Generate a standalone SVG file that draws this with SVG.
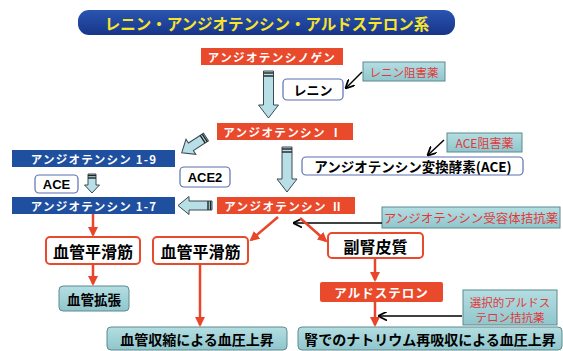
<svg xmlns="http://www.w3.org/2000/svg" width="563" height="351" viewBox="0 0 563 351">
<defs>
<linearGradient id="tg" x1="0" y1="0" x2="0" y2="1">
<stop offset="0" stop-color="#2a55b0"/>
<stop offset="1" stop-color="#17358a"/>
</linearGradient>
<linearGradient id="teal" x1="0" y1="0" x2="0" y2="1">
<stop offset="0" stop-color="#b4dee2"/>
<stop offset="1" stop-color="#8fc6cc"/>
</linearGradient>
<marker id="ra" viewBox="0 0 10 10" refX="8" refY="5" markerWidth="4" markerHeight="4" orient="auto" markerUnits="strokeWidth">
<path d="M0,0 L10,5 L0,10 z" fill="#e8452b"/>
</marker>
<marker id="ka" viewBox="0 0 10 10" refX="9" refY="5" markerWidth="6" markerHeight="6" orient="auto" markerUnits="strokeWidth">
<path d="M0,0 L10,5 L0,10" fill="none" stroke="#000" stroke-width="2"/>
</marker>
</defs>
<style>
text{font-family:"Noto Sans CJK JP","Liberation Sans",sans-serif;font-weight:bold;text-anchor:middle;dominant-baseline:central}
.red{fill:#ea4a2c}
.blue{fill:#1f4f9f}
.w{fill:#fff}
.wt{fill:#fff;font-size:11.5px;letter-spacing:1.4px}
.wbox{fill:#fff;stroke:#5b6fb0;stroke-width:1.2}
.rbox{fill:#fff;stroke:#ea4a2c;stroke-width:2}
.tbox{fill:url(#teal);stroke:#5d8a90;stroke-width:1}
.drug{fill:#e2383a;font-weight:normal;font-size:11.5px}
.ha{fill:#b7dfe5;stroke:#3a4a55;stroke-width:1}
.st{stroke:#222;stroke-width:1.4}
.rl{stroke:#e8452b;stroke-width:2.5;fill:none;marker-end:url(#ra)}
.kl{stroke:#000;stroke-width:1.5;fill:none;marker-end:url(#ka)}
</style>
<rect width="563" height="351" fill="#fff"/>

<g id="title">
<rect x="78" y="10" width="377" height="25" rx="11" fill="url(#tg)"/>
<text x="267" y="23" fill="#f7e52b" style="font-size:15.5px">レニン・アンジオテンシン・アルドステロン系</text>
</g>

<g id="angiotensinogen">
<rect x="201" y="48" width="142" height="17" class="red"/>
<text x="272" y="56.5" class="wt">アンジオテンシノゲン</text>
</g>

<g id="renin">
<rect x="283" y="79" width="60" height="21" rx="4" class="wbox"/>
<text x="313" y="89.5" style="font-size:13px">レニン</text>
</g>

<g id="renin-inhibitor">
<rect x="363" y="62" width="82" height="19" class="tbox"/>
<text x="404" y="71.5" class="drug">レニン阻害薬</text>
</g>

<g id="angiotensin1">
<rect x="217" y="123" width="136" height="17" class="red"/>
<text x="283" y="131.5" class="wt">アンジオテンシン Ⅰ</text>
</g>

<g id="ace-inhibitor">
<rect x="447" y="133" width="75" height="19" class="tbox"/>
<text x="484.5" y="142.5" class="drug" style="font-size:12px">ACE阻害薬</text>
</g>

<g id="ace-enzyme">
<rect x="302" y="157" width="221" height="18" rx="4" class="wbox"/>
<text x="413" y="166" style="font-size:13.5px">アンジオテンシン変換酵素(ACE)</text>
</g>

<g id="angiotensin2">
<rect x="217" y="197" width="138" height="17" class="red"/>
<text x="284" y="205.5" class="wt">アンジオテンシン Ⅱ</text>
</g>

<g id="arb">
<rect x="382" y="207" width="178" height="21" class="tbox"/>
<text x="471" y="217.5" class="drug" style="font-size:12.5px">アンジオテンシン受容体拮抗薬</text>
</g>

<g id="angiotensin1-9">
<rect x="12" y="150" width="163" height="17" class="blue"/>
<text x="94" y="158.5" class="wt" style="letter-spacing:1.2px">アンジオテンシン 1-9</text>
</g>

<g id="ace-small">
<rect x="35" y="175" width="43" height="18" rx="4" class="wbox"/>
<text x="56.5" y="184" style="font-size:13px;font-family:'Liberation Sans',sans-serif">ACE</text>
</g>

<g id="ace2">
<rect x="180" y="167" width="50" height="20" rx="4" class="wbox"/>
<text x="205" y="177" style="font-size:13px;font-family:'Liberation Sans',sans-serif">ACE2</text>
</g>

<g id="angiotensin1-7">
<rect x="12" y="197" width="163" height="17" class="blue"/>
<text x="94" y="205.5" class="wt" style="letter-spacing:1.2px">アンジオテンシン 1-7</text>
</g>

<g id="smooth-muscle-left">
<rect x="46" y="237" width="94" height="27" rx="4" class="rbox"/>
<text x="93" y="250.5" style="font-size:16px">血管平滑筋</text>
</g>

<g id="vasodilation">
<rect x="59" y="286" width="70" height="25" rx="4" class="tbox"/>
<text x="94" y="298.5" style="font-size:13.5px">血管拡張</text>
</g>

<g id="smooth-muscle-mid">
<rect x="153" y="237" width="95" height="27" rx="4" class="rbox"/>
<text x="200.5" y="250.5" style="font-size:16px">血管平滑筋</text>
</g>

<g id="adrenal-cortex">
<rect x="328" y="233" width="95" height="25" rx="4" class="rbox"/>
<text x="375.5" y="245.5" style="font-size:16px">副腎皮質</text>
</g>

<g id="aldosterone">
<rect x="320" y="282" width="123" height="20" rx="2" class="red"/>
<text x="381.5" y="292" class="wt" style="font-size:12.5px;letter-spacing:1px">アルドステロン</text>
</g>

<g id="mra">
<rect x="463" y="290" width="94" height="35" class="tbox"/>
<text x="510" y="302" class="drug">選択的アルドス</text>
<text x="510" y="317" class="drug">テロン拮抗薬</text>
</g>

<g id="bp-vasoconstriction">
<rect x="107" y="327" width="180" height="23" rx="4" class="tbox"/>
<text x="197" y="338.5" style="font-size:14px">血管収縮による血圧上昇</text>
</g>

<g id="bp-sodium">
<rect x="298" y="327" width="264" height="23" rx="4" class="tbox"/>
<text x="430" y="338.5" style="font-size:14px">腎でのナトリウム再吸収による血圧上昇</text>
</g>

<g id="connectors">
<!-- hollow arrows -->
<g transform="translate(268.5,71)">
<path class="ha" d="M-5,0 H5 V34 H10 L0,47 L-10,34 H-5 Z"/>
<line class="st" x1="-5" y1="2" x2="5" y2="2"/><line class="st" x1="-5" y1="5" x2="5" y2="5"/>
</g>
<g transform="translate(287,147)">
<path class="ha" d="M-5,0 H5 V32 H10 L0,45 L-10,32 H-5 Z"/>
<line class="st" x1="-5" y1="2" x2="5" y2="2"/><line class="st" x1="-5" y1="5" x2="5" y2="5"/>
</g>
<g transform="translate(206,137) rotate(57)">
<path class="ha" d="M-4.5,0 H4.5 V18 H9 L0,29 L-9,18 H-4.5 Z"/>
<line class="st" x1="-4.5" y1="1.5" x2="4.5" y2="1.5"/><line class="st" x1="-4.5" y1="4" x2="4.5" y2="4"/>
</g>
<g transform="translate(212,205.5) rotate(90)">
<path class="ha" d="M-4.5,0 H4.5 V23 H9 L0,34 L-9,23 H-4.5 Z"/>
<line class="st" x1="-4.5" y1="1.5" x2="4.5" y2="1.5"/><line class="st" x1="-4.5" y1="4" x2="4.5" y2="4"/>
</g>
<g transform="translate(92,174)">
<path class="ha" d="M-4,0 H4 V11 H7.5 L0,19 L-7.5,11 H-4 Z"/>
<line class="st" x1="-4" y1="1.5" x2="4" y2="1.5"/><line class="st" x1="-4" y1="4" x2="4" y2="4"/>
</g>
<!-- black inhibitor arrows -->
<line class="kl" x1="362" y1="72" x2="346" y2="88"/>
<line class="kl" x1="444" y1="140" x2="428" y2="155"/>
<line class="kl" x1="382" y1="223" x2="294" y2="223"/>
<line class="kl" x1="462" y1="316" x2="379" y2="316"/>
<!-- red arrows -->
<line class="rl" x1="93" y1="214" x2="93" y2="235"/>
<line class="rl" x1="93" y1="264" x2="93" y2="284"/>
<line class="rl" x1="278" y1="217" x2="251" y2="240"/>
<line class="rl" x1="300" y1="218" x2="326" y2="241"/>
<line class="rl" x1="200" y1="264" x2="200" y2="325"/>
<line class="rl" x1="375" y1="258" x2="375" y2="280"/>
<line class="rl" x1="375" y1="302" x2="375" y2="325"/>
</g>
</svg>
